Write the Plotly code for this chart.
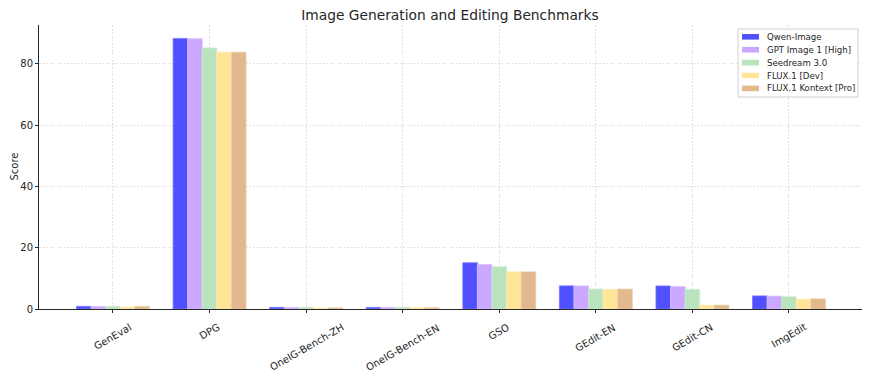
import plotly.graph_objects as go

categories = ["GenEval", "DPG", "OneIG-Bench-ZH", "OneIG-Bench-EN", "GSO",
              "GEdit-EN", "GEdit-CN", "ImgEdit"]
models = ["Qwen-Image", "GPT Image 1 [High]", "Seedream 3.0", "FLUX.1 [Dev]",
          "FLUX.1 Kontext [Pro]"]
qwen_image = [0.87, 88.32, 0.548, 0.539, 15.1, 7.56, 7.52, 4.27]
gpt_image_1 = [0.84, 88.2, 0.474, 0.533, 14.5, 7.53, 7.30, 4.20]
seedream_3 = [0.84, 85.2, 0.528, 0.530, 13.8, 6.50, 6.40, 4.00]
flux_dev = [0.66, 83.8, 0.30, 0.434, 12.1, 6.45, 1.25, 3.20]
flux_kontext_pro = [0.80, 83.8, 0.35, 0.40, 12.1, 6.50, 1.25, 3.30]
series = [qwen_image, gpt_image_1, seedream_3, flux_dev, flux_kontext_pro]
colors = ["#5050FF", "#CBA8FF", "#B8E3BC", "#FFE597", "#E2B98C"]
edge_colors = ["#7878FF", "#D8BEFF", "#CDEBD0", "#FFEDB5", "#EACAA8"]

W, H = 872, 374
ML, MR, MT, MB = 39, 10, 25, 65
PW, PH = W - ML - MR, H - MT - MB


def px(x):
    return (x - ML) / PW


def py(y):
    return (H - MB - y) / PH


fig = go.Figure()
for name, vals, c, ec in zip(models, series, colors, edge_colors):
    fig.add_trace(go.Bar(x=categories, y=vals, name=name, showlegend=False,
                         marker=dict(color=c, line=dict(color=ec, width=0.8))))

for cat in categories:
    fig.add_annotation(x=cat, y=-0.035, xref="x", yref="paper", text=cat,
                       showarrow=False, textangle=-30, xanchor="center",
                       yanchor="top", font=dict(size=10, color="#262626"))

# y-axis title
fig.add_annotation(x=px(13.5), y=0.5, xref="paper", yref="paper",
                   text="Score", showarrow=False, textangle=-90,
                   xanchor="center", yanchor="middle",
                   font=dict(size=10, color="#262626"))

# legend box (drawn manually to match compact matplotlib-style legend)
fig.add_shape(type="rect", xref="paper", yref="paper",
              x0=px(738), x1=px(858), y0=py(97), y1=py(29),
              line=dict(color="#d0d0d0", width=1),
              fillcolor="rgba(255,255,255,0.8)", layer="above")
row_y0, row_dy = 36.8, 12.9
for i, (name, c) in enumerate(zip(models, colors)):
    yy = row_y0 + i * row_dy
    fig.add_shape(type="rect", xref="paper", yref="paper",
                  x0=px(742), x1=px(759), y0=py(yy + 2.8), y1=py(yy - 2.8),
                  line=dict(width=0), fillcolor=c, layer="above")
    fig.add_annotation(x=px(765), y=py(yy), xref="paper", yref="paper",
                       text=name, showarrow=False, xanchor="left",
                       yanchor="middle", font=dict(size=8.6, color="#262626"))

fig.update_layout(
    width=W, height=H,
    margin=dict(l=ML, r=MR, t=MT, b=MB),
    paper_bgcolor="white", plot_bgcolor="white",
    barmode="group", bargap=0.245, bargroupgap=0,
    font=dict(family="DejaVu Sans", size=10, color="#262626"),
    title=dict(text="Image Generation and Editing Benchmarks", x=0.516,
               xanchor="center", y=0.96, yanchor="middle",
               font=dict(size=13.8, color="#262626")),
    showlegend=False,
)
fig.update_xaxes(showticklabels=False, showgrid=True, gridcolor="#dedede",
                 griddash="2px,1.5px", gridwidth=0.8, showline=True,
                 linecolor="#262626", linewidth=1, ticks="outside",
                 ticklen=3, tickcolor="#262626", range=[-0.766, 7.756],
                 automargin=False)
fig.update_yaxes(range=[0, 92.7], tickvals=[0, 20, 40, 60, 80],
                 showgrid=True, gridcolor="#e3e3e3", griddash="2px,1.5px",
                 gridwidth=0.8, showline=True, linecolor="#262626",
                 linewidth=1, ticks="outside", ticklen=3,
                 tickcolor="#262626", zeroline=False, automargin=False)

fig.write_html("out.html", config={"displayModeBar": False},
               post_script="document.body.style.margin='0';"
                           "document.body.style.padding='0';")
